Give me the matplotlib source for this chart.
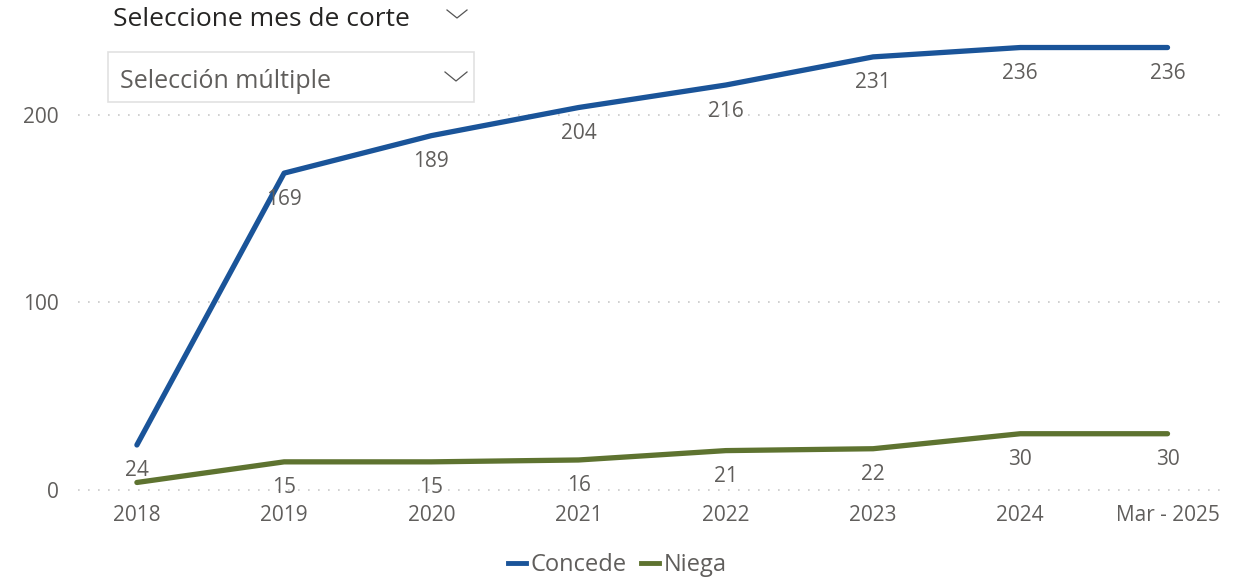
import matplotlib
matplotlib.use("Agg")
import matplotlib.pyplot as plt
from matplotlib.lines import Line2D
from matplotlib.patches import Rectangle

categories = ["2018", "2019", "2020", "2021", "2022", "2023", "2024", "Mar - 2025"]
concede = [24, 169, 189, 204, 216, 231, 236, 236]
niega = [4, 15, 15, 16, 21, 22, 30, 30]
niega_label_shown = [False, True, True, True, True, True, True, True]
yticks = [0, 100, 200]

BLUE = "#1a5499"
GREEN = "#5e7330"
TXT = "#605e5c"
FONT = ["Open Sans", "DejaVu Sans"]
plt.rcParams["font.family"] = FONT

W, H = 1242, 581
fig = plt.figure(figsize=(W / 100, H / 100), dpi=100)
ax = fig.add_axes([78 / W, 1 - 495.6 / H, (1222 - 78) / W, (495.6 - 11.9) / H])
x = list(range(len(categories)))

ax.plot(x, concede, color=BLUE, lw=3.8, solid_capstyle="round", solid_joinstyle="round", zorder=3)
ax.plot(x, niega, color=GREEN, lw=3.8, solid_capstyle="round", solid_joinstyle="round", zorder=3)

for xi, v in zip(x, concede):
    ax.annotate(str(v), (xi, v), xytext=(0, -26), textcoords="offset pixels",
                ha="center", va="center", fontsize=15, color=TXT, zorder=4)
for xi, v, show in zip(x, niega, niega_label_shown):
    if show:
        ax.annotate(str(v), (xi, v), xytext=(0, -26), textcoords="offset pixels",
                    ha="center", va="center", fontsize=15, color=TXT, zorder=4)

ax.set_xlim(-0.4, 7.37)
ax.set_ylim(-3, 255)
ax.set_xticks(x)
ax.set_xticklabels(categories, fontsize=15, color=TXT)
ax.set_yticks(yticks)
ax.set_yticklabels([str(t) for t in yticks], fontsize=15, color=TXT)
ax.tick_params(length=0)
ax.tick_params(axis="x", pad=7)
ax.tick_params(axis="y", pad=14)
for s in ax.spines.values():
    s.set_visible(False)
ax.grid(axis="y", color="#c8c8c8", linestyle=(0, (1, 5)), lw=1.2)
ax.grid(axis="x", visible=False)
ax.set_facecolor("none")

# Legend
handles = [Line2D([], [], color=BLUE, lw=3.5), Line2D([], [], color=GREEN, lw=3.5)]
fig.legend(handles, ["Concede", "Niega"], loc="center", bbox_to_anchor=(0.497, 1 - 565 / H),
           ncol=2, frameon=False, fontsize=17, handlelength=0.75, handletextpad=0.2,
           columnspacing=0.6, labelcolor=TXT)

# Slicer header and box
fig.text(113 / W, 1 - 20 / H, "Seleccione mes de corte", fontsize=19, color="#252423",
         ha="left", va="center")
fig.patches.append(Rectangle((108 / W, 1 - 102 / H), (474 - 108) / W, 50 / H,
                             transform=fig.transFigure, facecolor="white",
                             edgecolor="#e1e1e1", lw=1.2, zorder=5))
fig.text(120 / W, 1 - 81 / H, "Selección múltiple", fontsize=18, color=TXT,
         ha="left", va="center", zorder=6)

def chevron(cx, top, w, h):
    fig.add_artist(Line2D([(cx - w) / W, cx / W, (cx + w) / W],
                          [1 - top / H, 1 - (top + h) / H, 1 - top / H],
                          transform=fig.transFigure, color="#555555", lw=0.9, zorder=7))

chevron(457, 10, 10, 8)
chevron(456, 72, 11, 9)

fig.savefig("out.png", dpi=100)
